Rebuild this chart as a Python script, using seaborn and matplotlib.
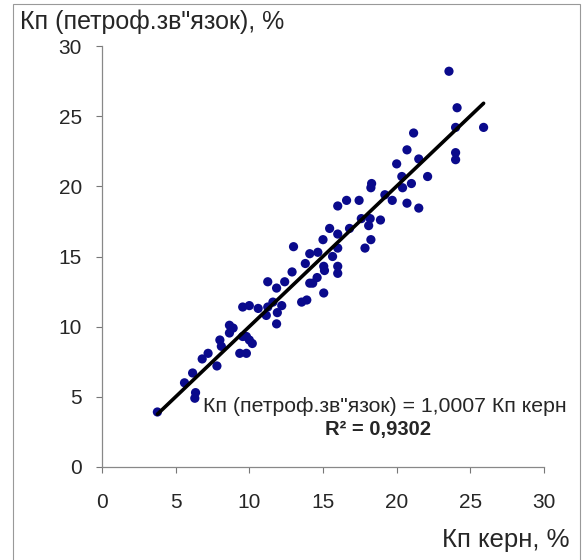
import numpy as np
import pandas as pd
import matplotlib
matplotlib.use("Agg")
import matplotlib.pyplot as plt
import seaborn as sns
from matplotlib.patches import Rectangle

# core porosity (x) vs porosity from petrophysical relation (y), %
kp_core = [3.76, 6.3, 6.35, 5.6, 6.15, 6.8, 7.2, 7.8, 8.0, 8.1, 8.65, 9.35, 9.8, 10.2, 9.55,
           13.0, 14.1, 14.65, 15.0, 13.8, 12.9, 14.6, 15.05, 11.25, 12.4, 11.85, 14.1, 15.05,
           13.55, 13.9, 9.55, 10.0, 10.6, 11.25, 11.6, 12.2, 11.9, 11.15, 11.85, 8.65, 8.9,
           9.8, 10.0, 14.3,
           20.0, 20.35, 22.1, 21.0, 20.4, 18.3, 18.25, 19.2, 19.7, 20.7, 21.5, 16.6, 17.45,
           16.0, 17.6, 18.2, 18.9, 18.1, 15.45, 16.0, 16.8, 18.25, 17.85, 15.65, 16.0, 15.1,
           16.0, 16.0,
           23.55, 24.1, 25.9, 24.0, 21.15, 20.7, 21.5, 24.0, 24.0]
kp_petro = [3.92, 4.9, 5.3, 6.0, 6.7, 7.7, 8.1, 7.2, 9.05, 8.6, 9.55, 8.1, 8.1, 8.8, 9.3,
            15.7, 15.2, 15.3, 16.2, 14.5, 13.9, 13.5, 14.3, 13.2, 13.2, 12.75, 13.1, 12.4,
            11.75, 11.9, 11.4, 11.5, 11.3, 11.4, 11.75, 11.5, 11.0, 10.8, 10.2, 10.1, 9.9,
            9.3, 9.05, 13.1,
            21.6, 20.7, 20.7, 20.2, 19.9, 20.2, 19.9, 19.4, 19.0, 18.8, 18.45, 19.0, 19.0,
            18.6, 17.7, 17.7, 17.6, 17.2, 17.0, 16.6, 17.0, 16.2, 15.6, 15.0, 15.6, 14.0,
            14.3, 13.8,
            28.2, 25.6, 24.2, 24.2, 23.8, 22.6, 21.95, 22.4, 21.9]
slope = 1.0007
r2 = 0.9302
ticks = [0, 5, 10, 15, 20, 25, 30]

df = pd.DataFrame({"core": kp_core, "petro": kp_petro})

sns.set_style("white")
plt.rcParams["font.family"] = ["Liberation Sans", "DejaVu Sans"]

fig = plt.figure(figsize=(5.84, 5.6), dpi=100)
ax = fig.add_axes([102 / 584, 1 - 467 / 560, 442 / 584, 421 / 560])

sns.scatterplot(data=df, x="core", y="petro", ax=ax, color="#0a0a8c",
                s=44, edgecolor="none", zorder=3)

# trend line through origin over the data range
xl = np.array([df["core"].min(), df["core"].max()])
ax.plot(xl, slope * xl, color="black", lw=2.6, zorder=4)

ax.set_xlim(0, 30)
ax.set_ylim(0, 30)
ax.set_xticks(ticks)
ax.set_yticks(ticks)
ax.tick_params(axis="both", labelsize=15, direction="out", length=4.5,
               width=0.8, color="#777777", left=True, bottom=True)
ax.tick_params(axis="y", pad=10)
ax.tick_params(axis="x", pad=14)
for side in ["top", "right"]:
    ax.spines[side].set_visible(False)
for side in ["left", "bottom"]:
    ax.spines[side].set_color("#888888")
    ax.spines[side].set_linewidth(0.9)
ax.set_xlabel("")
ax.set_ylabel("")

ax.text(0.64, 0.143, 'Кп (петроф.зв"язок) = 1,0007 Кп керн', transform=ax.transAxes,
        ha="center", va="center", fontsize=15.3)
ax.text(0.624, 0.088, "R² = " + f"{r2:.4f}".replace(".", ","), transform=ax.transAxes,
        ha="center", va="center", fontsize=14.5, fontweight="bold")

fig.text(20 / 584, 1 - 29 / 560, 'Кп (петроф.зв"язок), %', fontsize=18,
         ha="left", va="baseline")
fig.text(569 / 584, 1 - 547 / 560, "Кп керн, %", fontsize=18.5,
         ha="right", va="baseline")

fig.patches.append(Rectangle((13 / 584, -0.01), 567 / 584, 1 - 4 / 560 + 0.01,
                             transform=fig.transFigure, fill=False,
                             edgecolor="#999999", lw=0.8))

fig.savefig("out.png", dpi=100)
